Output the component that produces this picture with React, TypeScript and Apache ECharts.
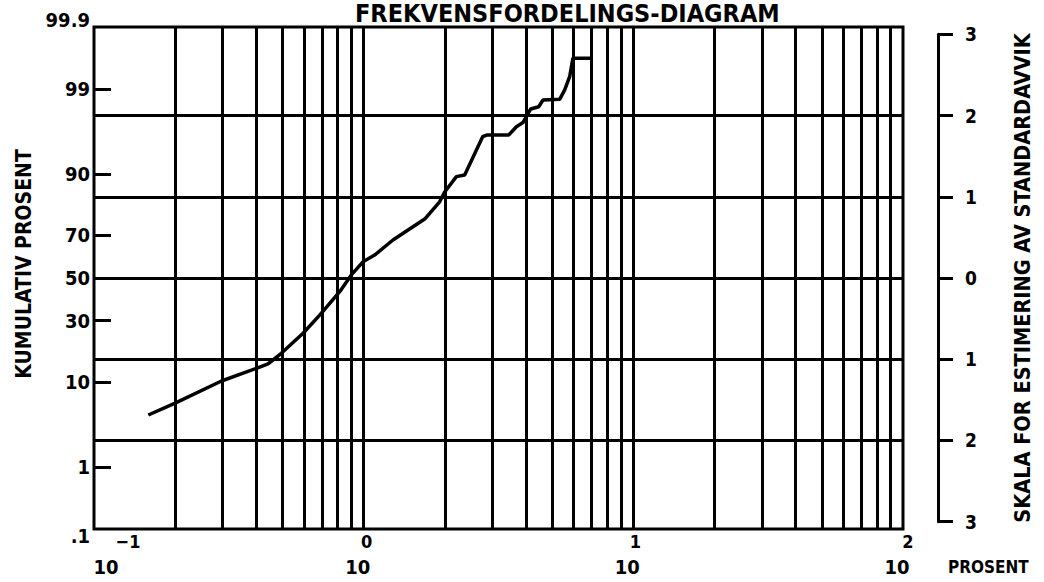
import React, { useEffect, useRef } from "react";
import * as echarts from "echarts";

const TITLE = "FREKVENSFORDELINGS-DIAGRAM";
const LEFT_NAME = "KUMULATIV PROSENT";
const RIGHT_NAME = "SKALA FOR ESTIMERING AV STANDARDAVVIK";
const X_NAME = "PROSENT";

// Curve: x = percent (log axis), y = cumulative percent (probability axis)
const curveX = [0.159, 0.199, 0.297, 0.4, 0.442, 0.495, 0.596, 0.687, 0.815, 0.9, 0.994, 1.098, 1.284, 1.684, 1.913, 1.997, 2.207, 2.369, 2.762, 2.858, 3.449, 3.684, 3.896, 4.163, 4.457, 4.624, 5.332, 5.565, 5.806, 5.972, 7.008];
const curveCum = [4.58, 6.14, 10.24, 13.3, 14.5, 17.7, 24.8, 32.4, 43.3, 51.5, 57.9, 61.1, 68.0, 76.6, 82.6, 85.5, 89.4, 89.76, 95.9, 96.08, 96.08, 96.87, 97.22, 98.13, 98.25, 98.58, 98.61, 98.97, 99.34, 99.66, 99.66];

// Vertical grid lines (percent)
const xGridValues = [0.2, 0.3, 0.4, 0.5, 0.6, 0.7, 0.8, 0.9, 1, 2, 3, 4, 5, 6, 7, 8, 9, 10, 20, 30, 40, 50, 60, 70, 80, 90];
const X_MIN = 0.1;
const X_MAX = 100;
// Horizontal grid lines (standard deviations)
const sigmaLines = [-2, -1, 0, 1, 2];
// Left axis labels (cumulative percent)
const leftLabelPercents = [0.1, 1, 10, 30, 50, 70, 90, 99, 99.9];
const leftLabelTexts = [".1", "1", "10", "30", "50", "70", "90", "99", "99.9"];
const leftTickPercents = [1, 10, 30, 70, 90, 99];
// Right axis (standard deviations)
const SIGMA_MIN = -3;
const SIGMA_MAX = 3;
const P_MIN = 0.1;
const P_MAX = 99.9;

function probit(pPercent: number): number {
  const p = pPercent / 100;
  const a = [-39.69683028665376, 220.9460984245205, -275.9285104469687, 138.357751867269, -30.66479806614716, 2.506628277459239];
  const b = [-54.47609879822406, 161.5858368580409, -155.6989798598866, 66.80131188771972, -13.28068155288572];
  const c = [-0.007784894002430293, -0.3223964580411365, -2.400758277161838, -2.549732539343734, 4.374664141464968, 2.938163982698783];
  const d = [0.007784695709041462, 0.3224671290700398, 2.445134137142996, 3.754408661907416];
  const pl = 0.02425;
  const ph = 1 - pl;
  if (p < pl) {
    const q = Math.sqrt(-2 * Math.log(p));
    return (((((c[0] * q + c[1]) * q + c[2]) * q + c[3]) * q + c[4]) * q + c[5]) / ((((d[0] * q + d[1]) * q + d[2]) * q + d[3]) * q + 1);
  }
  if (p <= ph) {
    const q = p - 0.5;
    const r = q * q;
    return ((((((a[0] * r + a[1]) * r + a[2]) * r + a[3]) * r + a[4]) * r + a[5]) * q) / (((((b[0] * r + b[1]) * r + b[2]) * r + b[3]) * r + b[4]) * r + 1);
  }
  const q = Math.sqrt(-2 * Math.log(1 - p));
  return -(((((c[0] * q + c[1]) * q + c[2]) * q + c[3]) * q + c[4]) * q + c[5]) / ((((d[0] * q + d[1]) * q + d[2]) * q + d[3]) * q + 1);
}

const FONT = "'DejaVu Sans Condensed', 'DejaVu Sans', sans-serif";
const txt = (size: number, extra: any = {}) => ({ fontSize: size, fontWeight: "bold", fontFamily: FONT, color: "#000", ...extra });

export default function App() {
  const ref = useRef<HTMLDivElement>(null);
  useEffect(() => {
    document.body.style.margin = "0";
    if (!ref.current) return;
    const chart = echarts.init(ref.current, null, { renderer: "svg" });
    const zMin = probit(P_MIN);
    const zMax = probit(P_MAX);
    const leftZ = leftLabelPercents.map(probit);
    const leftTickZ = leftTickPercents.map(probit);
    const gridTop = 27;
    const gridH = 502;
    const pxPerSigma = gridH / (zMax - zMin);
    const rTop = gridTop + (zMax - SIGMA_MAX) * pxPerSigma;
    const rBottom = gridTop + gridH - (SIGMA_MIN - zMin) * pxPerSigma;

    const expOf = (v: number) => Math.round(Math.log10(v));
    const option: any = {
      animation: false,
      backgroundColor: "#fff",
      title: {
        text: TITLE,
        left: 350,
        top: -4,
        textStyle: txt(25),
      },
      grid: [
        { left: 94, top: gridTop, width: 809, height: gridH, show: true, borderColor: "#000", borderWidth: 3, backgroundColor: "transparent", containLabel: false, outerBoundsMode: "none" },
        { left: 900, right: 1044 - 938, top: rTop, bottom: 582 - rBottom, show: false, containLabel: false, outerBoundsMode: "none" },
      ],
      xAxis: [
        {
          type: "log", logBase: 10, gridIndex: 0, min: X_MIN, max: X_MAX, position: "bottom",
          axisLine: { show: false, onZero: false }, axisTick: { show: false }, splitLine: { show: false },
          name: X_NAME, nameLocation: "end", nameGap: 45,
          nameTextStyle: txt(17, { verticalAlign: "top", padding: [29, 0, 0, 0] }),
          axisLabel: {
            show: true, margin: 28, showMinLabel: true, showMaxLabel: true,
            formatter: (v: number) => (expOf(v) === -1 ? "{a|10}" : "{b|10}"),
            rich: { a: txt(20, { padding: [0, 0, 0, 24] }), b: txt(20, { padding: [0, 12, 0, 0] }) },
          },
        },
        {
          type: "log", logBase: 10, gridIndex: 0, min: X_MIN, max: X_MAX, position: "bottom",
          axisLine: { show: false, onZero: false }, axisTick: { show: false }, splitLine: { show: false },
          axisLabel: {
            show: true, margin: 3, showMinLabel: true, showMaxLabel: true,
            formatter: (v: number) => {
              const e = expOf(v);
              if (e === -1) return "{a|\u22121}";
              if (e === 0) return "{b|0}";
              if (e === 1) return "{c|1}";
              return "{d|2}";
            },
            rich: {
              a: txt(18, { padding: [0, 0, 0, 68] }),
              b: txt(18, { padding: [0, 0, 0, 6] }),
              c: txt(18, { padding: [0, 0, 0, 4] }),
              d: txt(18, { padding: [0, 0, 6, 10] }),
            },
          },
        },
        { type: "value", gridIndex: 1, show: false, min: 0, max: 1, axisLine: { onZero: false } },
      ],
      yAxis: [
        {
          type: "value", gridIndex: 0, min: zMin, max: zMax,
          axisLine: { show: false, onZero: false }, splitLine: { show: false },
          axisTick: { show: true, inside: true, length: 17, customValues: leftTickZ, lineStyle: { color: "#000", width: 3 } },
          axisLabel: {
            show: true, margin: 4, customValues: leftZ, showMinLabel: true, showMaxLabel: true,
            formatter: (v: number) => {
              let best = 0;
              leftZ.forEach((z, i) => { if (Math.abs(z - v) < Math.abs(leftZ[best] - v)) best = i; });
              const t = leftLabelTexts[best];
              if (best === leftZ.length - 1) return `{t|${t}}`;
              if (best === 0) return `{u|${t}}`;
              return `{n|${t}}`;
            },
            rich: {
              t: txt(20, { padding: [0, 0, 14, 0] }),
              u: txt(20, { padding: [14, 0, 0, 0] }),
              n: txt(20),
            },
          },
          name: LEFT_NAME, nameLocation: "middle", nameRotate: 90, nameGap: 52,
          nameTextStyle: txt(21, { padding: [0, 0, 0, 28] }),
        },
        {
          type: "value", gridIndex: 1, position: "right", min: SIGMA_MIN, max: SIGMA_MAX, interval: 1,
          splitLine: { show: false },
          axisLine: { show: true, onZero: false, lineStyle: { color: "#000", width: 3 } },
          axisTick: { show: true, length: 15, lineStyle: { color: "#000", width: 3 } },
          axisLabel: { show: true, margin: 27, formatter: (v: number) => String(Math.abs(v)), ...txt(19) },
          name: RIGHT_NAME, nameLocation: "middle", nameRotate: 90, nameGap: 73,
          nameTextStyle: txt(21.5),
        },
      ],
      series: [
        {
          type: "line", xAxisIndex: 0, yAxisIndex: 0,
          data: curveX.map((x, i) => [x, probit(curveCum[i])]),
          showSymbol: false, symbol: "none",
          lineStyle: { color: "#000", width: 3.5 },
          z: 6,
          markLine: {
            silent: true, symbol: "none", animation: false,
            label: { show: false },
            lineStyle: { color: "#000", width: 3, type: "solid" },
            data: [
              ...xGridValues.map((v) => ({ xAxis: v })),
              ...sigmaLines.map((v) => ({ yAxis: v })),
            ],
          },
        },
      ],
    };
    chart.setOption(option);
    return () => chart.dispose();
  }, []);
  return <div ref={ref} style={{ width: 1044, height: 582 }} />;
}
